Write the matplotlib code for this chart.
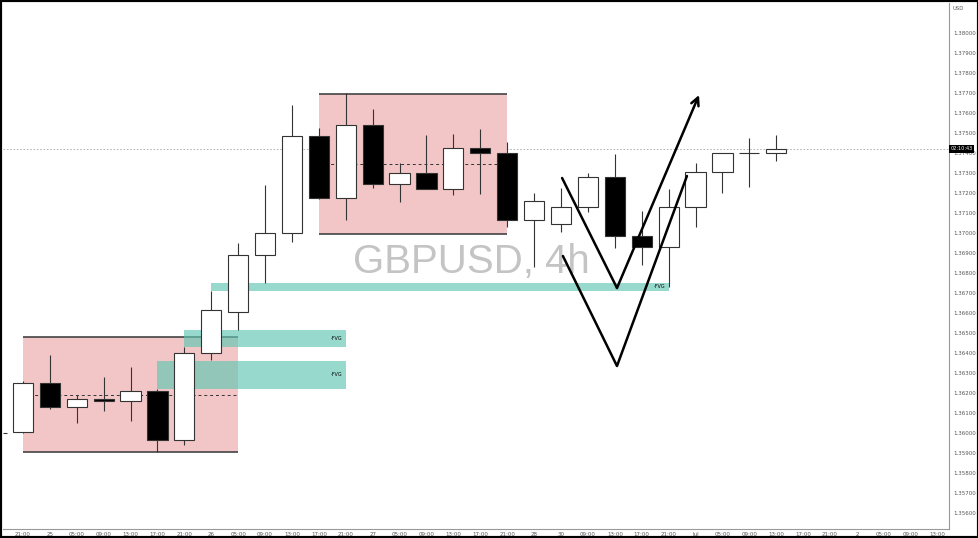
import matplotlib.pyplot as plt
import numpy as np
from matplotlib.patches import Rectangle

# GBPUSD 4h candles
opens = [1.36005, 1.3625, 1.3613, 1.3617, 1.3616, 1.3621, 1.35965, 1.3640, 1.36605, 1.3689,
         1.3700, 1.37485, 1.37175, 1.3754, 1.37245, 1.3730, 1.3722, 1.37425, 1.3740, 1.37065,
         1.37045, 1.3713, 1.3728, 1.36985, 1.3693, 1.3713, 1.37305, 1.3740, 1.3740]
highs = [1.3626, 1.3639, 1.3619, 1.3628, 1.3633, 1.3622, 1.3643, 1.3671, 1.3695, 1.3724,
         1.3764, 1.37525, 1.3770, 1.3762, 1.3735, 1.3749, 1.37495, 1.3752, 1.37455, 1.3720,
         1.37225, 1.3730, 1.37395, 1.3711, 1.3722, 1.3735, 1.3740, 1.37475, 1.3749]
lows = [1.3600, 1.3612, 1.3605, 1.3611, 1.3606, 1.35905, 1.3594, 1.36365, 1.36515, 1.3675,
        1.36955, 1.3717, 1.37065, 1.37225, 1.37155, 1.3722, 1.3719, 1.37195, 1.3703, 1.3683,
        1.37005, 1.37105, 1.36925, 1.3684, 1.3673, 1.3703, 1.3720, 1.3723, 1.3736]
closes = [1.3625, 1.3613, 1.3617, 1.3616, 1.3621, 1.35965, 1.3640, 1.36615, 1.3689, 1.3700,
          1.37485, 1.37175, 1.3754, 1.37245, 1.3730, 1.3722, 1.37425, 1.3740, 1.37065, 1.3716,
          1.3713, 1.3728, 1.36985, 1.3693, 1.3713, 1.37305, 1.3740, 1.3740, 1.3742]

time_labels = ["21:00", "25", "05:00", "09:00", "13:00", "17:00", "21:00", "26", "05:00",
               "09:00", "13:00", "17:00", "21:00", "27", "05:00", "09:00", "13:00", "17:00",
               "21:00", "28", "30", "09:00", "13:00", "17:00", "21:00", "Jul", "05:00",
               "09:00", "13:00", "17:00", "21:00", "2", "05:00", "09:00", "13:00"]
price_ticks = [round(1.356 + 0.001 * k, 3) for k in range(25)]

# zones: (start idx, end idx, low, high)
range_boxes = [(0, 8, 1.35905, 1.3648), (11, 18, 1.36995, 1.37695)]
fvg_zones = [(6, 12, 1.3643, 1.36515), (5, 12, 1.3622, 1.3636), (7, 24, 1.3671, 1.3675)]

# hand drawn paths (idx, price)
path_upper = [(20.04, 1.37275), (22.08, 1.36725), (25.13, 1.3769)]
path_lower = [(20.07, 1.36885), (22.08, 1.36335), (24.68, 1.37285)]

last_price = 1.3742

fig = plt.figure(figsize=(9.79, 5.38), dpi=100)
ax = fig.add_axes([3 / 979, 9 / 538, 946 / 979, 526 / 538])

ax.set_xlim(-0.74, 34.42)
ax.set_ylim(1.3552, 1.3815)

# range boxes
for x0, x1, lo, hi in range_boxes:
    ax.add_patch(Rectangle((x0, lo), x1 - x0, hi - lo, facecolor='#f2c6c6', edgecolor='none', zorder=1))
    ax.hlines([lo, hi], x0, x1, color='#444444', lw=1.2, zorder=1.2)
    ax.hlines((lo + hi) / 2, x0, x1, color='#333333', lw=0.7, linestyles=(0, (3, 3)), zorder=1.2)

# fair value gaps
for x0, x1, lo, hi in fvg_zones:
    ax.add_patch(Rectangle((x0, lo), x1 - x0, hi - lo, facecolor='#5fc7b3', alpha=0.65,
                           edgecolor='none', zorder=1.5))
    ax.text(x1 - 0.12, (lo + hi) / 2, '-FVG', fontsize=3.5, ha='right', va='center', zorder=1.6)

# candles
w = 0.75
for i in range(len(opens)):
    o, h, l, c = opens[i], highs[i], lows[i], closes[i]
    ax.vlines(i, l, h, color='#333333', lw=0.8, zorder=2)
    fc = 'white' if c >= o else 'black'
    ax.add_patch(Rectangle((i - w / 2, min(o, c)), w, abs(c - o), facecolor=fc,
                           edgecolor='#333333', lw=0.8, zorder=3))

# last price line
ax.axhline(last_price, color='#aaaaaa', lw=0.6, ls=(0, (2, 2)), zorder=0.5)

# watermark
ax.text(16.65, 1.36855, 'GBPUSD, 4h', fontsize=29, color='#c4c4c4', ha='center', va='center',
        family='Liberation Sans', zorder=0.8)

# drawn V paths
xs, ys = zip(*path_upper)
ax.plot(xs[:2], ys[:2], color='black', lw=1.8, zorder=5, solid_capstyle='round')
ax.annotate('', xy=path_upper[2], xytext=path_upper[1],
            arrowprops=dict(arrowstyle='->', lw=1.8, color='black', mutation_scale=14,
                            shrinkA=0, shrinkB=0), zorder=5)
xs, ys = zip(*path_lower)
ax.plot(xs, ys, color='black', lw=1.8, zorder=5, solid_capstyle='round')

# axes styling
for s in ['top', 'left']:
    ax.spines[s].set_visible(False)
ax.spines['right'].set_color('#999999')
ax.spines['bottom'].set_color('#999999')
ax.spines['right'].set_linewidth(0.8)
ax.spines['bottom'].set_linewidth(0.8)

ax.yaxis.tick_right()
ax.set_yticks(price_ticks)
ax.set_yticklabels([f'{p:.5f}' for p in price_ticks])
ax.set_xticks(range(len(time_labels)))
ax.set_xticklabels(time_labels)
ax.tick_params(axis='y', length=0, labelsize=4, labelcolor='#555555', pad=3)
ax.tick_params(axis='x', length=0, labelsize=4, labelcolor='#555555', pad=2)

# price tag + currency
ax.text(1.013, last_price, '02:10:43', transform=ax.get_yaxis_transform(), fontsize=3.6,
        color='white', ha='center', va='center', clip_on=False,
        bbox=dict(boxstyle='square,pad=0.25', facecolor='black', edgecolor='none'))
ax.text(1.004, 0.995, 'USD', transform=ax.transAxes, fontsize=3.8, color='#555555',
        ha='left', va='top')

# small marker at left edge
ax.hlines(1.3600, -0.74, -0.6, color='#333333', lw=0.8, clip_on=False)

# screenshot frame
fig.patches.append(Rectangle((0, 0), 1, 1, transform=fig.transFigure, fill=False,
                             edgecolor='black', lw=3))

fig.savefig('out.png', dpi=100)
